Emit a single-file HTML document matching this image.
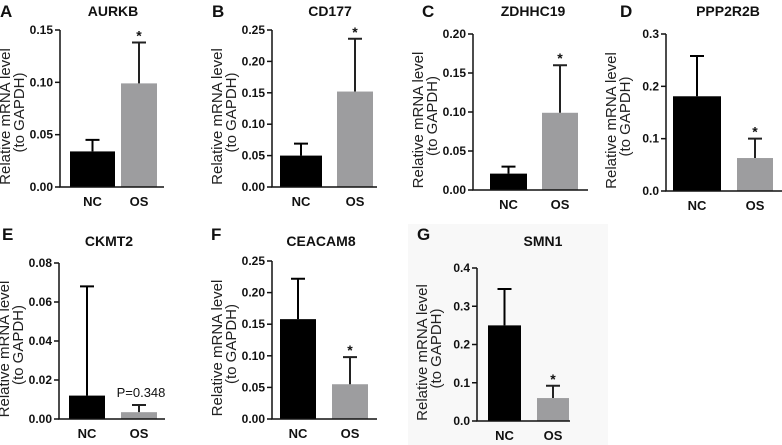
<!DOCTYPE html>
<html><head><meta charset="utf-8"><style>
html,body{margin:0;padding:0;background:#fff;}
svg{display:block;font-family:"Liberation Sans",Arial,sans-serif;}
</style></head><body>
<svg id="fig" width="782" height="445" viewBox="0 0 782 445">
<rect x="408" y="224" width="200" height="221" fill="#f8f8f8"/>
</svg>
<script>
const panelLetters=["A","B","C","D","E","F","G"];
const panelTitles=["AURKB","CD177","ZDHHC19","PPP2R2B","CKMT2","CEACAM8","SMN1"];
const categories=["NC","OS"];
const ncValues=[0.034,0.050,0.021,0.181,0.012,0.158,0.25];
const osValues=[0.099,0.152,0.099,0.063,0.0035,0.055,0.06];
const ncErrTops=[0.045,0.069,0.030,0.258,0.068,0.222,0.345];
const osErrTops=[0.138,0.236,0.160,0.100,0.0072,0.098,0.092];
const axisMax=[0.15,0.25,0.20,0.3,0.08,0.25,0.4];
const tickSteps=[0.05,0.05,0.05,0.1,0.02,0.05,0.1];
const tickDecimals=[2,2,2,1,2,2,1];
const annotations=["*","*","*","*","P=0.348","*","*"];
// layout (not data)
const L=[
 {ax:60,top:30,zero:187,b:[[70,115],[121,157]],end:164,tc:113,lx:0,row:0},
 {ax:272,top:30,zero:187,b:[[280,322],[337,373]],end:377,tc:330,lx:212,row:0},
 {ax:473,top:34,zero:190,b:[[490,527],[542,578]],end:588,tc:533,lx:422,row:0},
 {ax:666,top:34,zero:191,b:[[673,721],[737,773]],end:782,tc:728,lx:620,row:0},
 {ax:59,top:263,zero:419,b:[[69,105],[121,157]],end:165,tc:109,lx:2,row:1},
 {ax:272,top:261,zero:419,b:[[280,316],[332,368]],end:377,tc:321,lx:211,row:1},
 {ax:477,top:268,zero:421,b:[[488,521],[537,569]],end:570,tc:543,lx:417,row:1}
];
const svg=document.getElementById('fig');
const NS="http://www.w3.org/2000/svg";
function mk(tag,attrs,parent){const e=document.createElementNS(NS,tag);for(const k in attrs)e.setAttribute(k,attrs[k]);(parent||svg).appendChild(e);return e;}
for(let i=0;i<7;i++){
 const p=L[i];
 const g=mk('g',{});
 
 
 const y=v=>p.zero-(v/axisMax[i])*(p.zero-p.top);
 const ly=p.row?240:17, ty=p.row?246:16;
 const letter=mk('text',{x:p.lx,y:ly,'font-size':17,'font-weight':'bold',fill:'#111'},g);
 letter.textContent=panelLetters[i];
 
 
 const t=mk('text',{x:p.tc,y:ty,'font-size':14,'font-weight':'bold','text-anchor':'middle',fill:'#111'},g);
 t.textContent=panelTitles[i];
 
 
 const cy=(p.top+p.zero)/2+8;
 const y1=mk('text',{x:0,y:0,transform:`translate(${p.ax-50},${cy}) rotate(-90)`,'font-size':15,'text-anchor':'middle',fill:'#222'},g);
 y1.textContent="Relative mRNA level";
 
 
 const y2=mk('text',{x:0,y:0,transform:`translate(${p.ax-36},${cy-4}) rotate(-90)`,'font-size':15,'text-anchor':'middle',fill:'#222'},g);
 y2.textContent="(to GAPDH)";
 
 
 const vals=[ncValues[i],osValues[i]], errs=[ncErrTops[i],osErrTops[i]], cols=['#000','#9d9d9f'];
 for(let k=0;k<2;k++){
  const [x0,x1]=p.b[k];
  const r=mk('rect',{x:x0,y:y(vals[k]),width:x1-x0,height:p.zero-y(vals[k]),fill:cols[k]},g);
  
  
  const cx=(x0+x1)/2;
  const e=mk('path',{d:`M${cx} ${y(vals[k])}V${y(errs[k])}M${cx-7} ${y(errs[k])}H${cx+7}`,stroke:k===0?'#000':'#222',"stroke-width":2,fill:'none'},g);
  
  
  const xl=mk('text',{x:cx,y:p.zero+19,'font-size':13,'font-weight':'bold','text-anchor':'middle',fill:'#111'},g);
  xl.textContent=categories[k];
  
  
 }
 const ann=annotations[i];
 const sx=(p.b[1][0]+p.b[1][1])/2;
 const a=mk('text',{x:ann==="*"?sx:sx+2,y:y(errs[1])-(ann==="*"?2:8),'font-size':ann==="*"?14:13,'font-weight':ann==="*"?'bold':'normal','text-anchor':'middle',fill:'#111'},g);
 a.textContent=ann;
 
 
 const ax=mk('path',{d:`M${p.ax} ${p.top}V${p.zero}H${p.end}`,stroke:'#111','stroke-width':1.5,fill:'none'},g);
 
 
 const n=Math.round(axisMax[i]/tickSteps[i]);
 for(let j=0;j<=n;j++){
  const v=j*tickSteps[i], yy=y(v);
  const tk=mk('line',{x1:p.ax-5,x2:p.ax,y1:yy,y2:yy,stroke:'#111','stroke-width':1.5},g);
  
  
  const tl=mk('text',{x:p.ax-7,y:yy+4,'font-size':12,'font-weight':'bold','text-anchor':'end',fill:'#111'},g);
  tl.textContent=v.toFixed(tickDecimals[i]);
  
  
 }
}
</script>
</body></html>
